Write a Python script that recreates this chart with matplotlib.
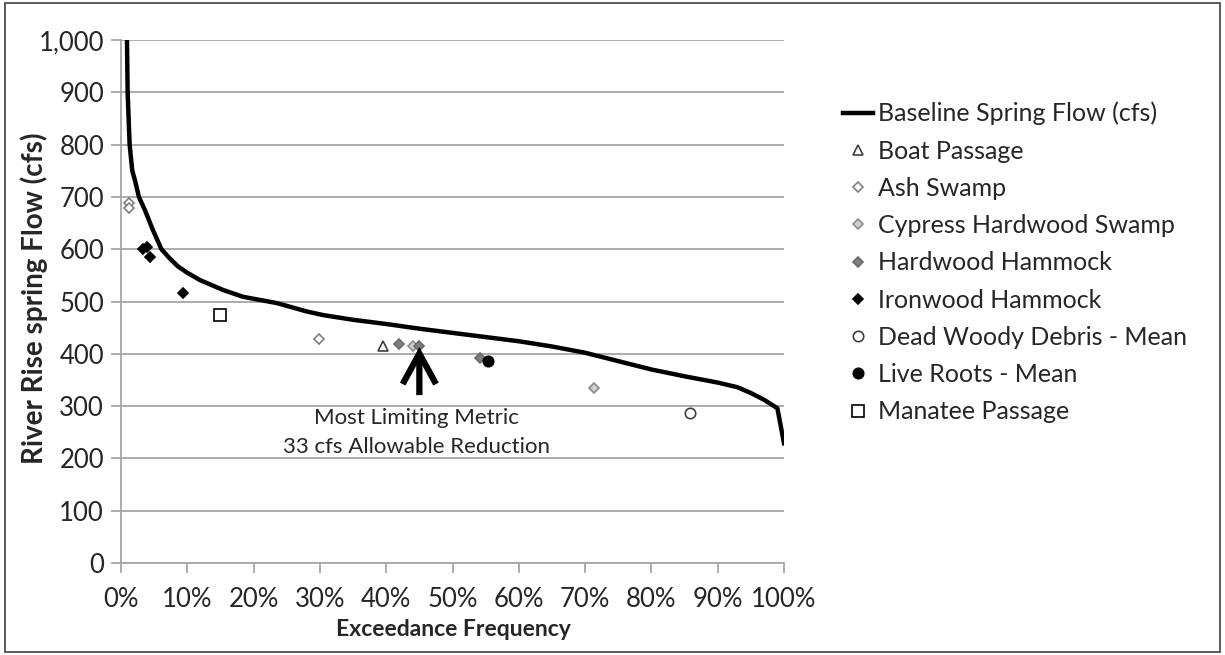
import matplotlib
matplotlib.use("Agg")
import matplotlib.pyplot as plt
from matplotlib.patches import Rectangle
from matplotlib.ticker import FuncFormatter, MultipleLocator

plt.rcParams['font.family'] = ['Lato', 'DejaVu Sans']

# Baseline flow-duration curve: exceedance (%) vs. spring flow (cfs)
baseline_exceed = [0.9, 1.0, 1.3, 1.7, 2.1, 2.7, 3.6, 4.8, 6.1, 7.3, 8.6, 10, 11.9, 15.4,
                   18.4, 23.5, 28, 30.5, 35, 40, 45, 50, 55, 60, 65, 70, 75, 80, 85, 90,
                   93, 95, 97, 99, 100]
baseline_flow = [1000, 900, 800, 750, 732, 700, 675, 637, 600, 583, 567, 555, 541, 522,
                 509, 497, 481, 474, 465, 457, 448, 440, 432, 424, 414, 402, 386, 370, 357, 345,
                 336, 325, 312, 296, 229]

# Metric thresholds: exceedance (%) and flow (cfs)
boat_x, boat_y = [39.5], [415]
ash_x, ash_y = [1.2, 1.2, 29.8], [688, 679, 428]
cypress_x, cypress_y = [44.0, 71.4], [415, 335]
hardwood_x, hardwood_y = [42.0, 45.0, 54.1], [418, 415, 392]
ironwood_x, ironwood_y = [3.3, 3.9, 4.4, 9.4], [600, 604, 586, 517]
dead_x, dead_y = [85.8], [287]
roots_x, roots_y = [55.4], [386]
manatee_x, manatee_y = [15.0], [474]

limiting_x = 45.0
limiting_flow = 415
annotation_lines = ["Most Limiting Metric", "33 cfs Allowable Reduction"]

W, H = 1225, 655
fig = plt.figure(figsize=(W / 100, H / 100), dpi=100)
ax = fig.add_axes([121 / W, 1 - 563 / H, 663 / W, 523 / H])

text_c = '#262626'
grid_c = '#A6A6A6'
ax.set_xlim(0, 100)
ax.set_ylim(0, 1000)
ax.yaxis.set_major_locator(MultipleLocator(100))
ax.xaxis.set_major_locator(MultipleLocator(10))
ax.yaxis.set_major_formatter(FuncFormatter(lambda v, p: f"{int(v):,}"))
ax.xaxis.set_major_formatter(FuncFormatter(lambda v, p: f"{int(v)}%"))
ax.grid(axis='y', color=grid_c, lw=1.3)
ax.set_axisbelow(True)
for s in ['top', 'right']:
    ax.spines[s].set_visible(False)
for s in ['left', 'bottom']:
    ax.spines[s].set_color(grid_c)
    ax.spines[s].set_linewidth(1.3)
ax.tick_params(axis='both', direction='out', length=7.2, width=1.3, color=grid_c,
               labelsize=18.5, labelcolor=text_c)
ax.tick_params(axis='y', pad=5)
ax.tick_params(axis='x', pad=10)

line, = ax.plot(baseline_exceed, baseline_flow, color='black', lw=3.2, zorder=3,
                label='Baseline Spring Flow (cfs)', solid_joinstyle='round')

ms = 6.5
series = [
    (boat_x, boat_y, dict(marker='^', mfc='white', mec='#404040', ms=ms), 'Boat Passage'),
    (ash_x, ash_y, dict(marker='D', mfc='white', mec='#7F7F7F', ms=ms - 1), 'Ash Swamp'),
    (cypress_x, cypress_y, dict(marker='D', mfc='#D0D0D0', mec='#8C8C8C', ms=ms - 1), 'Cypress Hardwood Swamp'),
    (hardwood_x, hardwood_y, dict(marker='D', mfc='#7F7F7F', mec='#6A6A6A', ms=ms - 1), 'Hardwood Hammock'),
    (ironwood_x, ironwood_y, dict(marker='D', mfc='black', mec='black', ms=ms - 1), 'Ironwood Hammock'),
    (dead_x, dead_y, dict(marker='o', mfc='white', mec='#404040', ms=ms + 1), 'Dead Woody Debris - Mean'),
    (roots_x, roots_y, dict(marker='o', mfc='black', mec='black', ms=ms + 1), 'Live Roots - Mean'),
    (manatee_x, manatee_y, dict(marker='s', mfc='white', mec='black', ms=ms + 1.5), 'Manatee Passage'),
]
handles = [line]
for xs, ys, style, name in series:
    h, = ax.plot(xs, ys, ls='none', mew=1.2, zorder=4, label=name, **style)
    handles.append(h)

# Arrow pointing at the most limiting metric
ax.annotate('', xy=(limiting_x, limiting_flow - 2), xytext=(limiting_x, 321),
            arrowprops=dict(arrowstyle='->,head_length=2.2,head_width=1.2', color='black',
                            lw=4.5, shrinkA=0, shrinkB=0, mutation_scale=10,
                            capstyle='butt', joinstyle='miter'), zorder=5)
ax.text(44.6, 277, annotation_lines[0], ha='center', va='center', fontsize=16, color=text_c)
ax.text(44.6, 222, annotation_lines[1], ha='center', va='center', fontsize=16, color=text_c)

fig.text(453 / W, 1 - 630 / H, 'Exceedance Frequency', ha='center', va='center',
         fontsize=16.5, fontweight='bold', color=text_c)
fig.text(34 / W, 1 - 298 / H, 'River Rise spring Flow (cfs)', ha='center', va='center',
         rotation=90, fontsize=20, fontweight='bold', color=text_c)

leg = fig.legend(handles=handles, loc='upper left', bbox_to_anchor=(843 / W, 1 - 101.8 / H),
                 frameon=False, fontsize=18, handlelength=1.2, handletextpad=0.2,
                 labelspacing=0.57, borderpad=0, borderaxespad=0)
for t in leg.get_texts():
    t.set_color(text_c)

fig.patches.append(Rectangle((0.004, 0.005), 0.992, 0.99, transform=fig.transFigure,
                             fill=False, edgecolor='#404040', lw=1.2))

fig.savefig('out.png', dpi=100)
